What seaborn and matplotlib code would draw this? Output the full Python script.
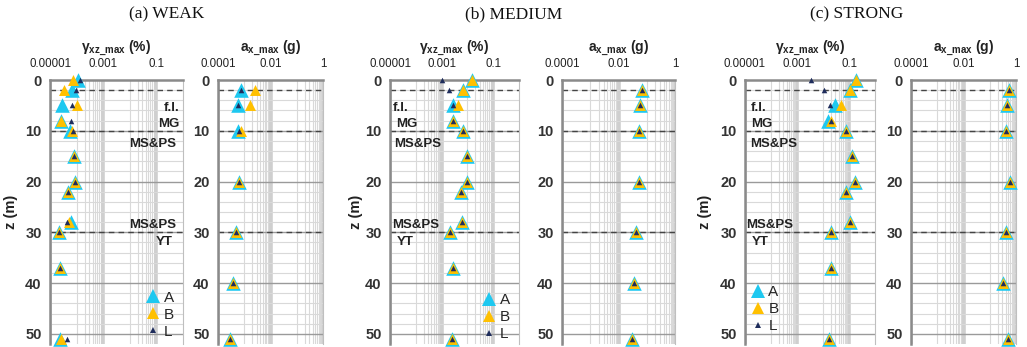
import numpy as np
import pandas as pd
import matplotlib
matplotlib.use("Agg")
import matplotlib.pyplot as plt
from matplotlib.lines import Line2D
from matplotlib.ticker import NullFormatter
import seaborn as sns

# ---------------- data ----------------
z_gamma = [0, 2, 5, 8, 10, 15, 20, 22, 28, 30, 37, 51]
z_acc = [2, 5, 10, 20, 30, 40, 51]

gamma_A_weak = [1.15e-4, 6.9e-5, 2.9e-5, 2.6e-5, 5.6e-5, 8.1e-5, 8.5e-5, 4.8e-5, 5.9e-5, 2.2e-5, 2.3e-5, 2.3e-5]
gamma_B_weak = [7.2e-5, 3.3e-5, 1.0e-4, 2.6e-5, 6.9e-5, 8.1e-5, 8.5e-5, 4.8e-5, 5.2e-5, 2.2e-5, 2.3e-5, 2.5e-5]
gamma_L_weak = [1.4e-4, 9.3e-5, 6.9e-5, 6.3e-5, 7.2e-5, 8.1e-5, 8.5e-5, 4.8e-5, 4.2e-5, 2.2e-5, 2.3e-5, 4.2e-5]
acc_A_weak = [7.2e-4, 5.8e-4, 5.8e-4, 6.5e-4, 4.8e-4, 3.6e-4, 2.9e-4]
acc_B_weak = [2.5e-3, 1.7e-3, 7.8e-4, 6.5e-4, 4.8e-4, 3.6e-4, 2.9e-4]
acc_L_weak = [7.2e-4, 5.8e-4, 6.5e-4, 6.5e-4, 4.8e-4, 3.6e-4, 2.9e-4]

gamma_A_medium = [0.0148, 0.0066, 0.0027, 0.0028, 0.0066, 0.0093, 0.0093, 0.0055, 0.0063, 0.0021, 0.0027, 0.0025]
gamma_B_medium = [0.0148, 0.0066, 0.0044, 0.0028, 0.0066, 0.0093, 0.0093, 0.0055, 0.0063, 0.0021, 0.0027, 0.0025]
gamma_L_medium = [0.00107, 0.0019, 0.0027, 0.0028, 0.0066, 0.0093, 0.0093, 0.0055, 0.0063, 0.0021, 0.0027, 0.0025]
acc_A_medium = [0.066, 0.060, 0.055, 0.055, 0.042, 0.034, 0.030]
acc_B_medium = [0.066, 0.060, 0.055, 0.055, 0.042, 0.034, 0.030]
acc_L_medium = [0.066, 0.060, 0.055, 0.055, 0.042, 0.034, 0.030]

gamma_A_strong = [0.18, 0.11, 0.030, 0.016, 0.076, 0.135, 0.174, 0.079, 0.107, 0.0195, 0.021, 0.017]
gamma_B_strong = [0.18, 0.11, 0.048, 0.021, 0.076, 0.135, 0.174, 0.079, 0.107, 0.0195, 0.021, 0.017]
gamma_L_strong = [0.0035, 0.0107, 0.0178, 0.021, 0.076, 0.135, 0.174, 0.079, 0.107, 0.0195, 0.021, 0.017]
acc_A_strong = [0.52, 0.46, 0.43, 0.60, 0.43, 0.31, 0.48]
acc_B_strong = [0.52, 0.46, 0.43, 0.60, 0.43, 0.31, 0.48]
acc_L_strong = [0.52, 0.46, 0.43, 0.60, 0.43, 0.31, 0.48]

series_names = ["A", "B", "L"]
panel_titles = ["(a) WEAK", "(b) MEDIUM", "(c) STRONG"]
gamma_ticks = [1e-5, 1e-3, 1e-1]
gamma_ticklabels = ["0.00001", "0.001", "0.1"]
acc_ticks = [1e-4, 1e-2, 1]
acc_ticklabels = ["0.0001", "0.01", "1"]
layer_bounds = [2, 10, 30]
layer_labels = ["f.l.", "MG", "MS&PS", "MS&PS", "YT"]
layer_label_z = [5.5, 8.7, 12.6, 28.5, 31.9]

# ---------------- style ----------------
sns.set_style("white")
plt.rcParams['font.family'] = ['Liberation Sans', 'DejaVu Sans']
plt.rcParams['mathtext.fontset'] = 'custom'
plt.rcParams['mathtext.rm'] = 'Liberation Sans:bold'
plt.rcParams['mathtext.it'] = 'Liberation Sans:bold'
plt.rcParams['mathtext.bf'] = 'Liberation Sans:bold'

colors = {"A": "#1ec8f0", "B": "#ffc000", "L": "#1f2d5c"}
sizes = {"A": 110, "B": 62, "L": 16}
leg_ms = {"A": 10, "B": 8.2, "L": 4.2}

W, H = 1027, 347
fig = plt.figure(figsize=(W / 100, H / 100), dpi=100)
TOP, BOT = 80, 344

def make_ax(x0, x1):
    return fig.add_axes([x0 / W, (H - BOT) / H, (x1 - x0) / W, (BOT - TOP) / H])

def style_ax(ax, kind):
    ax.set_xscale("log")
    if kind == "gamma":
        ax.set_xlim(1e-5, 1)
        ax.set_xticks(gamma_ticks)
        ax.set_xticklabels(gamma_ticklabels)
        minors = [j * 1e-4 for j in range(1, 10)] + [j * 1e-2 for j in range(1, 10)]
    else:
        ax.set_xlim(1e-4, 1)
        ax.set_xticks(acc_ticks)
        ax.set_xticklabels(acc_ticklabels)
        minors = [j * 1e-3 for j in range(1, 10)] + [j * 1e-1 for j in range(1, 10)]
    ax.set_xticks(minors, minor=True)
    ax.xaxis.set_minor_formatter(NullFormatter())
    ax.set_ylim(52, 0)
    ax.set_yticks([0, 10, 20, 30, 40, 50])
    ax.set_yticks(np.arange(0, 52, 2), minor=True)
    ax.yaxis.set_minor_formatter(NullFormatter())
    ax.xaxis.tick_top()
    ax.xaxis.set_label_position("top")
    ax.tick_params(axis="x", which="major", labelsize=8.3, length=0, pad=7, colors="#222222")
    ax.tick_params(axis="x", which="minor", length=0)
    ax.tick_params(axis="y", which="major", labelsize=10.5, length=3, width=1, colors="#7f7f7f",
                   labelcolor="#333333", pad=3)
    ax.tick_params(axis="y", which="minor", length=0)
    for lab in ax.get_yticklabels():
        lab.set_fontweight("bold")
    ax.grid(False)
    ax.set_axisbelow(True)
    for x in minors:
        ax.axvline(x, color="#d9d9d9", lw=0.8, zorder=0)
    for x in (gamma_ticks if kind == "gamma" else acc_ticks):
        ax.axvline(x, color="#cfcfcf", lw=2.6, zorder=0)
    for zz in np.arange(2, 52, 2):
        if zz % 10 == 0:
            ax.axhline(zz, color="#9a9a9a", lw=1.0, zorder=0.5)
        else:
            ax.axhline(zz, color="#d9d9d9", lw=0.8, zorder=0.2)
    for zb in layer_bounds:
        ax.axhline(zb, color="#444444", lw=1.0, ls=(0, (4, 3)), zorder=1)
    for side in ["top", "left"]:
        ax.spines[side].set_color("#8a8a8a")
        ax.spines[side].set_linewidth(1.8)
    ax.spines["right"].set_color("#bfbfbf")
    ax.spines["right"].set_linewidth(0.8)
    ax.spines["bottom"].set_visible(False)

def draw_series(ax, z, data):
    for name, vals in zip(series_names, data):
        df = pd.DataFrame({"value": vals, "z": z})
        sns.scatterplot(data=df, x="value", y="z", ax=ax, marker="^", s=sizes[name],
                        color=colors[name], linewidth=0, clip_on=False, zorder=3, legend=False)
    ax.set_xlabel("")
    ax.set_ylabel("")

panel_x = [
    ((50, 183), (218, 323)),
    ((390, 519), (562, 675)),
    ((745, 875), (911, 1016)),
]
gamma_data = [
    (gamma_A_weak, gamma_B_weak, gamma_L_weak),
    (gamma_A_medium, gamma_B_medium, gamma_L_medium),
    (gamma_A_strong, gamma_B_strong, gamma_L_strong),
]
acc_data = [
    (acc_A_weak, acc_B_weak, acc_L_weak),
    (acc_A_medium, acc_B_medium, acc_L_medium),
    (acc_A_strong, acc_B_strong, acc_L_strong),
]
title_x = [167, 514, 857]
zlabel_x = [-0.24, -0.21, -0.25]
layer_x = [
    ([0.977, 0.977, 0.95, 0.95, 0.925], "right"),
    ([0.02, 0.05, 0.03, 0.015, 0.05], "left"),
    ([0.045, 0.045, 0.04, 0.01, 0.055], "left"),
]
legend_anchor = [(0.93, 0.02, "lower right"), (0.93, 0.01, "lower right"), (0.05, 0.04, "lower left")]

for i in range(3):
    (g0, g1), (a0, a1) = panel_x[i]
    axg = make_ax(g0, g1)
    axa = make_ax(a0, a1)
    draw_series(axg, z_gamma, gamma_data[i])
    draw_series(axa, z_acc, acc_data[i])
    style_ax(axg, "gamma")
    style_ax(axa, "acc")
    axg.set_xlabel("γ$_{\\mathbf{xz\\_max}}$ (%)", fontsize=10, fontweight="bold", labelpad=5, color="#222222")
    axa.set_xlabel("a$_{\\mathbf{x\\_max}}$ (g)", fontsize=10, fontweight="bold", labelpad=5, color="#222222")
    axg.set_ylabel("z (m)", fontsize=10.5, fontweight="bold", color="#222222")
    axg.yaxis.set_label_coords(zlabel_x[i], 0.5)
    trans = axg.get_yaxis_transform()
    xs, ha = layer_x[i]
    for lab, zl, xl in zip(layer_labels, layer_label_z, xs):
        axg.text(xl, zl, lab, transform=trans, ha=ha, va="center", fontsize=9.5,
                 fontweight="bold", color="#222222", zorder=4)
    handles = [Line2D([], [], ls="none", marker="^", ms=leg_ms[n], color=colors[n], mew=0) for n in series_names]
    lx, ly, loc = legend_anchor[i]
    axg.legend(handles, series_names, loc=loc, bbox_to_anchor=(lx, ly), frameon=False,
               fontsize=11, handlelength=0.8, handletextpad=0.3, labelspacing=0.2,
               borderpad=0, borderaxespad=0)
    fig.text(title_x[i] / W, 1 - 14 / H, panel_titles[i], ha="center", va="center",
             fontsize=12.5, family="Liberation Serif", color="#111111")

fig.savefig("out.png", dpi=100)
